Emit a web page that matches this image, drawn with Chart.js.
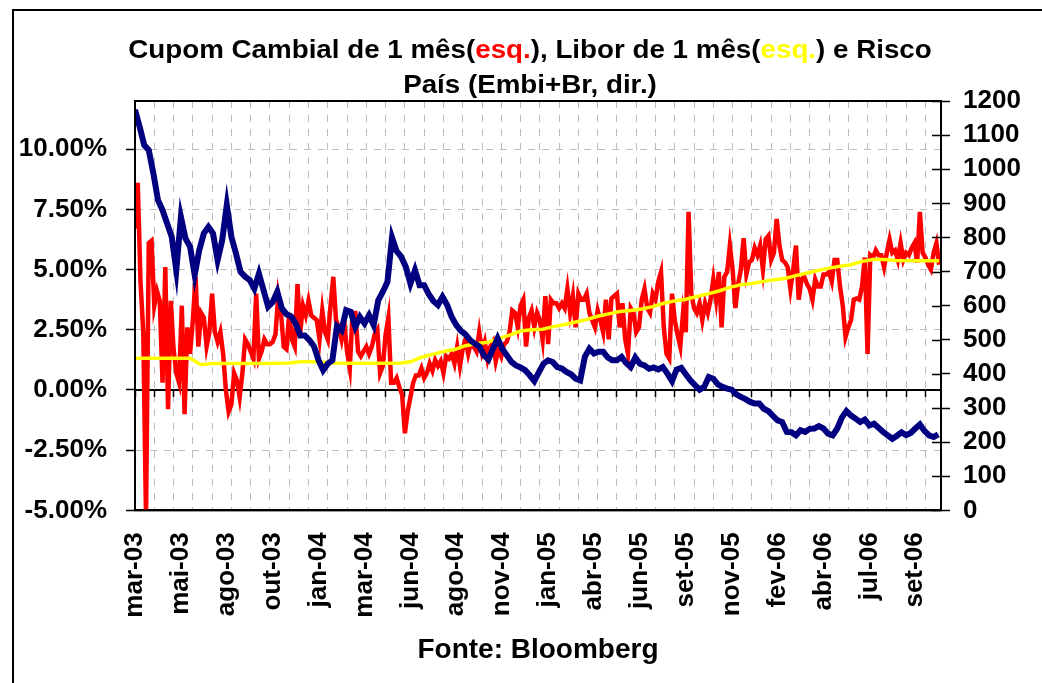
<!DOCTYPE html>
<html>
<head>
<meta charset="utf-8">
<script src="https://cdn.jsdelivr.net/npm/chart.js@4.4.0/dist/chart.umd.min.js"></script>
<style>
    html, body { margin: 0; padding: 0; background: #fff; overflow: hidden; }
    #wrap { position: relative; width: 1042px; height: 683px; }
    #frame { position: absolute; left: 12px; top: 9px; width: 1100px; height: 720px; border: 2px solid #000; }
    #title { position: absolute; left: 0; top: 32px; width: 1060px; text-align: center;
             font: bold 25px "Liberation Sans", Arial, sans-serif; line-height: 35px; color: #000;
             transform: scale(1.11, 1); transform-origin: 530px 0; }
    #title .red { color: #ff0000; }
    #title .yel { color: #ffff00; }
    canvas { position: absolute; left: 0; top: 0; }
</style>
</head>
<body>
<div id="wrap">
    <div id="frame"></div>
    <canvas id="chart" width="1042" height="683"></canvas>
    <div id="title">Cupom Cambial de 1 mês(<span class="red">esq.</span>), Libor de 1 mês(<span class="yel">esq.</span>) e Risco<br>País (Embi+Br, dir.)</div>
</div>
<script>
// x runs in business days from mar-03; one label every 50 days, one grid line every 21
const xLabels = ['mar-03', 'mai-03', 'ago-03', 'out-03', 'jan-04', 'mar-04', 'jun-04', 'ago-04', 'nov-04',
    'jan-05', 'abr-05', 'jun-05', 'set-05', 'nov-05', 'fev-06', 'abr-06', 'jul-06', 'set-06'];
const labelStep = 50;
const gridStep = 21;
const lastDay = 878;

// Cupom cambial 1 mes (%), one reading every 3 days
const cupomStep = 3;
const cupom = [
    6.7, 8.6, 4.5, 2.4, -5.3, 6.1, 6.2, 3.5, 4.1, 3.7,
    0.3, 5.1, -0.8, 3.7, 1.7, 0.7, 0.3, 3.5, -1.0, 2.6,
    1.5, 2.9, 4.7, 1.8, 3.2, 3.0, 1.8, 2.4, 4.0, 2.4,
    2.0, 2.4, 1.5, 0.0, -0.9, -0.6, 0.7, 0.4, -0.3, 0.7,
    2.1, 1.9, 1.6, 1.3, 4.0, 1.3, 1.6, 2.1, 1.9, 1.9,
    2.0, 2.3, 3.9, 3.2, 1.8, 1.7, 3.2, 2.1, 1.8, 4.4,
    2.4, 3.5, 3.1, 3.7, 3.1, 3.0, 2.9, 2.1, 3.3, 2.4,
    2.1, 3.5, 4.7, 2.9, 2.6,
    2.1, 2.8, 1.6, 0.9, 3.2, 3.2, 1.6, 1.4, 1.6, 1.8,
    1.5, 1.8, 2.3, 2.5, 0.7, 1.0, 2.3, 3.0, 0.3, 0.3,
    0.5, 0.1, -0.2, -1.8, -0.9, -0.3, 0.3, 0.6, 0.6, 0.9,
    0.5, 0.7, 1.1, 0.8, 1.25, 1.0, 1.2, 0.7, 1.4, 1.3,
    1.5, 1.1, 1.8, 1.0, 1.7, 2.1, 1.5, 2.0, 1.8, 1.6,
    2.4, 1.6, 2.0, 1.3, 1.8, 2.0, 1.2, 1.7, 1.4, 1.9,
    2.0, 2.4, 3.3, 3.2, 2.6, 3.5, 3.75, 1.8, 3.0, 3.3,
    2.6, 3.2,
    2.9, 2.1, 3.9, 1.9, 3.75, 3.6, 3.6, 3.4, 3.6, 3.4,
    4.2, 3.2, 3.9, 2.6, 4.0, 3.75, 3.75, 4.0, 3.2, 2.9,
    2.6, 3.3, 2.9, 2.4, 3.75, 2.1, 3.8, 3.9, 4.0, 2.6,
    3.6, 2.1, 1.5, 3.4, 3.2, 2.4, 2.6, 3.75, 4.2, 3.4,
    3.2, 4.0, 3.75, 4.5, 4.9, 2.6, 1.5, 1.3, 4.0, 2.9,
    2.3, 1.8, 3.2, 2.4, 7.4, 4.0, 3.4, 3.2, 3.6, 2.9,
    3.6, 3.2, 3.75, 4.6, 3.75, 4.9, 2.6, 4.7, 4.9, 6.0,
    5.0, 3.4, 4.4, 5.0,
    6.3, 4.8, 5.3, 5.4, 5.9, 5.6, 6.0, 5.0, 6.25, 6.4,
    5.4, 5.7, 7.1, 6.0, 5.4, 5.3, 5.1, 4.2, 5.0, 6.0,
    3.75, 4.6, 4.7, 4.4, 4.2, 3.75, 4.6, 4.3, 4.3, 4.8,
    4.8, 4.9, 4.5, 5.4, 5.4, 4.3, 3.5, 2.2, 2.6, 2.9,
    3.75, 3.8, 3.75, 4.3, 5.5, 1.5, 5.6, 5.5, 5.8, 5.6,
    5.6, 5.1, 5.7, 6.25, 5.7, 5.8, 5.4, 6.1, 5.4, 5.7,
    5.6, 5.9, 6.1, 5.3, 7.4, 5.7, 5.5, 5.2, 5.0, 5.7,
    6.1, 5.2
];

// Libor 1 mes (%), one reading every 12 days
const liborStep = 12;
const libor = [
    1.32, 1.32, 1.32, 1.32, 1.32, 1.32, 1.05, 1.10, 1.10, 1.10,
    1.10, 1.10, 1.10, 1.11, 1.12, 1.17, 1.17, 1.15, 1.12, 1.11,
    1.11, 1.11, 1.11, 1.11, 1.11, 1.17, 1.36, 1.48, 1.60, 1.68,
    1.84, 1.92, 1.98, 2.13, 2.28, 2.45, 2.50, 2.52, 2.63, 2.72,
    2.82, 2.92, 3.06, 3.16, 3.26, 3.30, 3.36, 3.46, 3.60, 3.70,
    3.77, 3.88, 3.99, 4.11, 4.26, 4.37, 4.42, 4.50, 4.58, 4.63,
    4.75, 4.86, 4.96, 5.06, 5.14, 5.20, 5.34, 5.42, 5.42, 5.38,
    5.37, 5.37, 5.37, 5.37
];

// Embi+Br (pontos base), one reading every 5 days
const embiStep = 5;
const embi = [
    1174, 1125, 1071, 1056, 988, 910, 880, 841, 802, 704,
    860, 797, 773, 690, 763, 812, 831, 812, 734, 792,
    895, 802, 753, 699, 685, 675, 650, 694, 646, 597,
    611, 641, 592, 575, 569, 548, 513, 513, 499, 481,
    440, 411, 430, 440, 540,
    528, 587, 582, 538, 567, 548, 572, 543, 616, 641,
    670, 800, 760, 743, 714, 665, 704, 660, 660, 634,
    614, 602, 626, 602, 567, 543, 526, 516, 499, 489,
    481, 455, 442, 474, 504, 474, 455, 435, 425, 419,
    411, 396, 379, 405,
    430, 440, 435, 420, 416, 406, 399, 386, 381, 450,
    474, 460, 465, 465, 448, 440, 440, 450, 432, 420,
    448, 430, 425, 415, 419, 413, 420, 401, 379, 413,
    418, 399, 381, 367, 354, 362, 391, 386, 369, 362,
    357, 354, 340, 333,
    326, 318, 313, 313, 298, 291, 277, 264, 259, 230,
    229, 220, 235, 230, 239, 240, 247, 240, 225, 220,
    240, 272, 291, 278, 269, 259, 266, 249, 254, 242,
    230, 220, 210, 219, 229, 221, 227, 240, 252, 233,
    220, 215, 223
];

const leftTicks = [-5, -2.5, 0, 2.5, 5, 7.5, 10];

function toPoints(values, step) {
    return values.map(function (v, i) { return { x: i * step, y: v }; });
}

function everyStep(step) {
    const out = [];
    for (let d = 0; d <= lastDay - 10; d += step) out.push({ value: d });
    return out;
}

Chart.defaults.font.family = '"Liberation Sans", Arial, sans-serif';
Chart.defaults.color = '#000';

// black frame around the plot and the inner half of the right-axis ticks
const framePlugin = {
    id: 'frame',
    afterDatasetsDraw(chart) {
        const ctx = chart.ctx;
        const a = chart.chartArea;
        const right = chart.scales.y2;
        ctx.save();
        ctx.strokeStyle = '#000';
        ctx.lineWidth = 1.5;
        ctx.beginPath();
        right.ticks.forEach(function (t) {
            const py = Math.round(right.getPixelForValue(t.value)) + 0.5;
            ctx.moveTo(a.right - 9, py);
            ctx.lineTo(a.right, py);
        });
        ctx.stroke();
        ctx.lineWidth = 2;
        ctx.strokeRect(a.left, a.top, a.right - a.left, a.bottom - a.top);
        ctx.restore();
    }
};

const gridGray = '#bdbdbd';

new Chart(document.getElementById('chart').getContext('2d'), {
    type: 'line',
    data: {
        datasets: [
            { label: 'Embi+Br', data: toPoints(embi, embiStep), yAxisID: 'y2', xAxisID: 'x',
              borderColor: '#000080', borderWidth: 6, pointRadius: 0 },
            { label: 'Libor', data: toPoints(libor, liborStep), yAxisID: 'y', xAxisID: 'x',
              borderColor: '#ffff00', borderWidth: 3.5, pointRadius: 0 },
            { label: 'Cupom', data: toPoints(cupom, cupomStep), yAxisID: 'y', xAxisID: 'x',
              borderColor: '#ff0000', borderWidth: 4.5, pointRadius: 0 }
        ]
    },
    options: {
        responsive: false,
        animation: false,
        layout: { padding: { top: 101, left: 0, right: 0, bottom: 0 } },
        plugins: {
            legend: { display: false },
            tooltip: { enabled: false },
            title: {
                display: true,
                text: 'Fonte: Bloomberg',
                position: 'bottom',
                fullSize: false,
                font: { size: 28, weight: 'bold' },
                color: '#000',
                padding: { top: 0, bottom: 16 }
            }
        },
        scales: {
            x: {
                type: 'linear',
                position: 'bottom',
                min: 0,
                max: lastDay,
                afterBuildTicks: function (scale) {
                    scale.ticks = xLabels.map(function (l, i) { return { value: i * labelStep }; });
                },
                afterFit: function (scale) { scale.height = 123; },
                ticks: {
                    autoSkip: false,
                    minRotation: 90,
                    maxRotation: 90,
                    padding: 22,
                    font: { size: 26, weight: 'bold' },
                    callback: function (v, i) { return xLabels[i]; }
                },
                grid: { display: false, drawTicks: false },
                border: { display: true, color: '#000', width: 2 }
            },
            xg: {
                type: 'linear',
                axis: 'x',
                position: { y: 0 },
                min: 0,
                max: lastDay,
                afterBuildTicks: function (scale) { scale.ticks = everyStep(gridStep); },
                ticks: { display: false },
                grid: { color: gridGray, lineWidth: 1, tickLength: 6, tickColor: '#000', tickWidth: 1.5, tickBorderDash: [] },
                border: { display: true, color: '#000', width: 2, dash: [7, 7] }
            },
            y: {
                position: 'left',
                min: -5,
                max: 12,
                afterBuildTicks: function (scale) {
                    scale.ticks = leftTicks.map(function (v) { return { value: v }; });
                },
                afterFit: function (scale) { scale.width = 135; },
                ticks: {
                    padding: 19,
                    font: { size: 26, weight: 'bold' },
                    callback: function (v) { return v.toFixed(2) + '%'; }
                },
                grid: {
                    color: function (c) { return c.tick && c.tick.value === 0 ? '#000' : gridGray; },
                    lineWidth: 1, tickLength: 9, tickColor: '#000', tickWidth: 1.5, tickBorderDash: []
                },
                border: { display: true, color: '#000', width: 2, dash: [7, 7] }
            },
            y2: {
                position: 'right',
                min: 0,
                max: 1200,
                ticks: {
                    stepSize: 100,
                    autoSkip: false,
                    padding: 13,
                    font: { size: 26, weight: 'bold' },
                    callback: function (v) { return String(v); }
                },
                afterFit: function (scale) { scale.width = 101; },
                grid: { drawOnChartArea: false, tickLength: 9, tickColor: '#000', tickWidth: 1.5 },
                border: { display: true, color: '#000', width: 2 }
            }
        }
    },
    plugins: [framePlugin]
});
</script>
</body>
</html>
